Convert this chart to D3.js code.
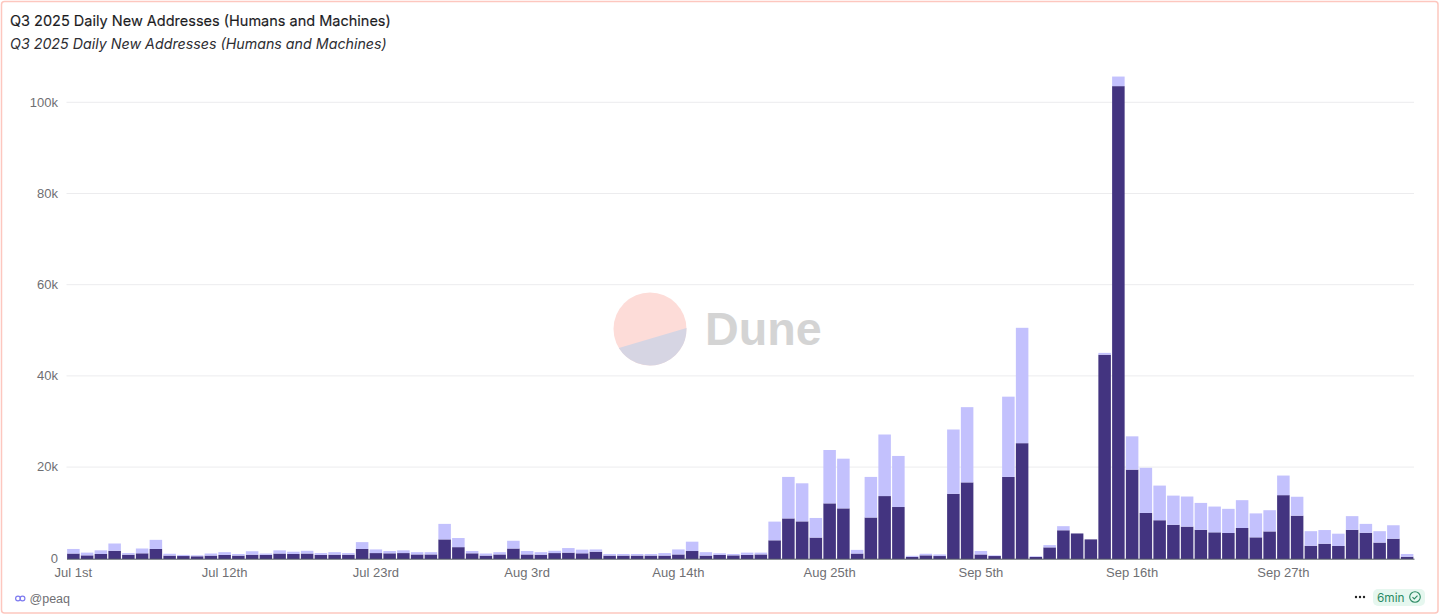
<!DOCTYPE html>
<html><head><meta charset="utf-8">
<script src="https://cdn.jsdelivr.net/npm/d3@7"></script>
<style>html,body{margin:0;padding:0;background:#fff}svg{display:block}</style>
</head><body><svg id="c" width="1440" height="615"></svg>
<script>
const chartTitle = "Q3 2025 Daily New Addresses (Humans and Machines)";
const tickLabels = ["Jul 1st","Jul 12th","Jul 23rd","Aug 3rd","Aug 14th","Aug 25th","Sep 5th","Sep 16th","Sep 27th"];
const yTicks = [0,20000,40000,60000,80000,100000];
// daily stack top, in thousands (Jul 1 - Oct 6, 2025)
const totalK = [2.2,1.4,1.9,3.4,1.3,2.3,4.2,1.15,.9,.8,1.2,1.5,1.1,1.7,1.2,1.9,1.6,1.8,1.3,1.5,1.3,3.7,2.1,1.75,1.9,1.5,1.5,7.7,4.6,1.75,
 1.2,1.5,4.0,1.75,1.5,1.8,2.4,2.05,2.1,1.1,1.1,1.1,1.1,1.3,2.1,3.8,1.5,1.25,1.1,1.4,1.4,8.2,18.0,16.6,9.0,23.9,22.0,2.0,18.0,27.3,22.6,
 .7,1.15,1.0,28.4,33.3,1.75,.8,35.6,50.7,.6,3.05,7.2,5.6,4.3,45.2,105.8,26.9,20.0,16.1,13.9,13.7,12.3,11.5,11.0,12.9,10.0,10.7,18.3,13.65,6.1,6.35,5.55,9.4,7.7,6.1,7.4,1.1];
// dark lower segment, in thousands
const lowerK = [1.2,.8,1.1,1.8,.95,1.25,2.2,.75,.65,.6,.75,.9,.75,.95,.9,1.2,1.1,1.2,.9,.95,.95,2.2,1.3,1.25,1.3,1.0,1.0,4.3,2.6,1.25,
 .75,1.0,2.3,1.0,.95,1.3,1.4,1.25,1.6,.75,.75,.75,.75,.75,1.0,1.75,.75,.9,.8,.9,1.0,4.1,8.9,8.25,4.7,12.2,11.1,1.2,9.1,13.8,11.4,
 .45,.8,.65,14.3,16.8,1.0,.65,18.0,25.4,.45,2.55,6.3,5.6,4.3,44.8,103.7,19.6,10.1,8.5,7.5,7.1,6.4,5.85,5.7,6.8,4.75,6.05,14.0,9.5,2.9,3.35,2.85,6.4,5.75,3.6,4.45,.5];

const W = 1440, H = 615;
const m = {left:66.5, right:1414, base:558.3, top:102.3, barDrop:0.7};
const svg = d3.select("#c");
const days = d3.utcDay.range(Date.UTC(2025,6,1), Date.UTC(2025,9,7));
const rows = days.map((d,i)=>({day:d, lower:lowerK[i]*1000, upper:(totalK[i]-lowerK[i])*1000}));
const stacked = d3.stack().keys(["lower","upper"])(rows);
const x = d3.scaleBand().domain(days).range([m.left,m.right]).paddingInner(0.09).paddingOuter(0.045);
const y = d3.scaleLinear().domain([0,100000]).range([m.base,m.top]);
const colors = {lower:"#433480", upper:"#c3c1fd"};

// frame
svg.append("rect").attr("x",1.5).attr("y",1.5).attr("width",W-3.5).attr("height",H-3.5).attr("rx",3)
  .attr("fill","#fff").attr("stroke","#fdc7bf").attr("stroke-width",1.5);

// header
const sans = "Inter, 'Noto Sans', sans-serif";
svg.append("text").attr("x",10).attr("y",26).attr("font-family",sans).attr("font-size",14.5).attr("font-weight",400)
  .attr("fill","#1c1c1f").attr("stroke","#1c1c1f").attr("stroke-width",0.15).text(chartTitle);
svg.append("text").attr("x",10).attr("y",48.5).attr("font-family",sans).attr("font-size",14.25).attr("font-style","italic")
  .attr("fill","#2e2e33").text(chartTitle);

// grid
svg.append("g").selectAll("line").data(yTicks.slice(1)).join("line")
  .attr("x1",m.left).attr("x2",m.right).attr("y1",d=>y(d)).attr("y2",d=>y(d))
  .attr("stroke","#ececee").attr("stroke-width",1);

// watermark
const wm = svg.append("g");
const cx=650, cy=329, r=36.5;
wm.append("circle").attr("cx",cx).attr("cy",cy).attr("r",r).attr("fill","#fddcd8");
const a0 = -0.03, a1 = Math.PI - 0.55;
const seg = d3.path();
seg.moveTo(cx+r*Math.cos(a0), cy+r*Math.sin(a0));
seg.arc(cx,cy,r,a0,a1);
seg.closePath();
wm.append("path").attr("d",seg.toString()).attr("fill","#d6d5e3");
wm.append("text").attr("x",705).attr("y",345).attr("font-family","'Liberation Sans', Arial, sans-serif")
  .attr("font-size",46.7).attr("font-weight",700).attr("fill","#d4d4d4").text("Dune");

// bars
svg.append("g").attr("transform",`translate(0,${m.barDrop})`)
  .selectAll("g").data(stacked).join("g").attr("fill",s=>colors[s.key])
  .selectAll("rect").data(s=>s).join("rect")
  .attr("x",d=>x(d.data.day)).attr("width",x.bandwidth())
  .attr("y",d=>y(d[1])).attr("height",d=>y(d[0])-y(d[1]));

// axes
const tickFont = "'Liberation Sans', Arial, sans-serif";
const yAxis = d3.axisLeft(y).tickValues(yTicks).tickSize(0).tickPadding(8.5)
  .tickFormat(d=>d===0?"0":d/1000+"k");
const yg = svg.append("g").attr("transform",`translate(${m.left},-0.4)`).call(yAxis);
yg.select(".domain").remove();
const labelDays = tickLabels.map((t,i)=>days[i*11]);
const xAxis = d3.axisBottom(x).tickValues(labelDays).tickSize(0).tickPadding(9.2)
  .tickFormat((d,i)=>tickLabels[i]);
const xg = svg.append("g").attr("transform",`translate(0,${m.base})`).call(xAxis);
xg.select(".domain").attr("stroke","#555a66").attr("stroke-width",1).attr("transform","translate(0,0.4)");
svg.selectAll(".tick text").attr("font-family",tickFont).attr("font-size",13).attr("fill","#6f6f73");

// footer
const link = svg.append("g").attr("fill","none").attr("stroke","#7f7cf0").attr("stroke-width",1.2);
link.append("circle").attr("cx",18).attr("cy",598.5).attr("r",2.4);
link.append("circle").attr("cx",22.5).attr("cy",598.5).attr("r",2.4);
svg.append("text").attr("x",29.5).attr("y",602.5).attr("font-family",tickFont).attr("font-size",12.5)
  .attr("fill","#6f6f73").text("@peaq");
svg.append("g").selectAll("circle").data([1356,1360,1364]).join("circle")
  .attr("cx",d=>d).attr("cy",597).attr("r",1.2).attr("fill","#222");
svg.append("rect").attr("x",1373).attr("y",589).attr("width",52).attr("height",17).attr("rx",5).attr("fill","#e6f7ef");
svg.append("text").attr("x",1377).attr("y",602).attr("font-family",sans).attr("font-size",11.8).attr("fill","#2b8a63").text("6min");
svg.append("circle").attr("cx",1415).attr("cy",597).attr("r",5.3).attr("fill","none").attr("stroke","#2b8a63").attr("stroke-width",1.1);
svg.append("path").attr("d","M1412.5 597.2l1.8 1.8 3.2-3.4").attr("fill","none").attr("stroke","#2b8a63").attr("stroke-width",1.1);
</script></body></html>
